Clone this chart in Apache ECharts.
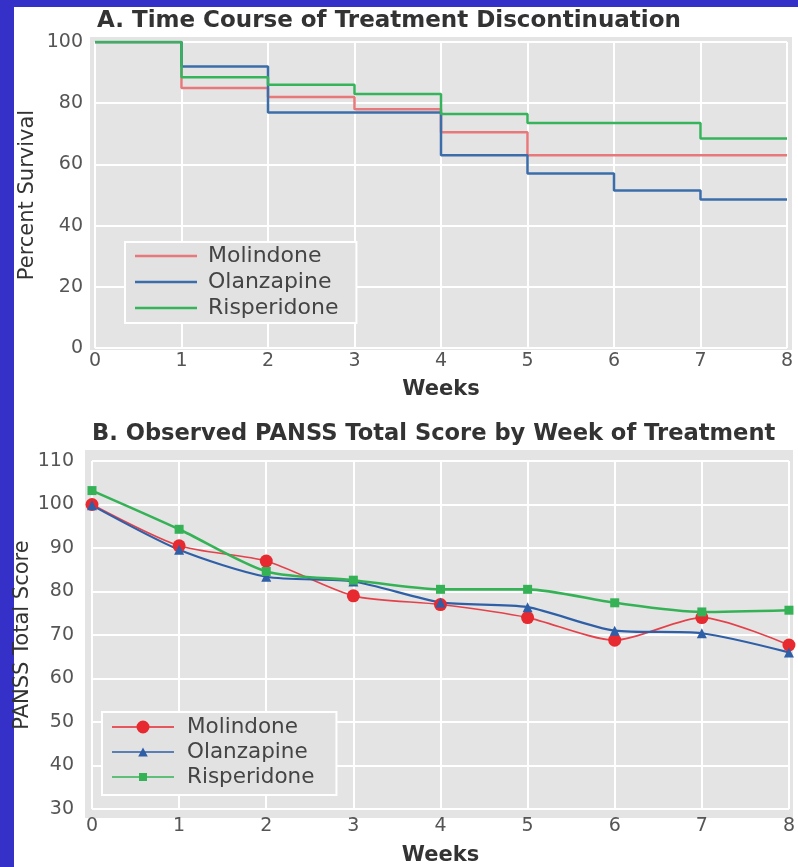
<!DOCTYPE html>
<html>
<head>
<meta charset="utf-8">
<script src="https://cdn.jsdelivr.net/npm/echarts@6/dist/echarts.min.js"></script>
<style>
html,body{margin:0;padding:0;background:#fff;}
#c{width:798px;height:867px;}
</style>
</head>
<body>
<div id="c"></div>
<script>
// ---- Data ----
const weeks = [0, 1, 2, 3, 4, 5, 6, 7, 8];
const weekTicks = ['0','1','2','3','4','5','6','7','8'];
// Panel A: Kaplan-Meier percent survival (value held from week i to i+1)
const molindoneSurvival   = [100, 85, 82, 78, 70.5, 63, 63, 63, 63];
const olanzapineSurvival  = [100, 92, 77, 77, 63, 57, 51.5, 48.5, 48.5];
const risperidoneSurvival = [100, 88.5, 86, 83, 76.5, 73.5, 73.5, 68.5, 68.5];
// Panel B: observed PANSS total score
const molindonePanss   = [100, 90.5, 87, 79, 77, 74, 68.8, 74, 67.7];
const olanzapinePanss  = [99.8, 89.6, 83.4, 82.3, 77.5, 76.4, 71, 70.4, 66];
const risperidonePanss = [103.2, 94.3, 84.6, 82.6, 80.5, 80.5, 77.4, 75.3, 75.7];
const drugNames = ['Molindone', 'Olanzapine', 'Risperidone'];

const pair = arr => weeks.map((w, i) => [w, arr[i]]);

const FONT = 'DejaVu Sans';
const GRAY = '#e4e4e4';
const RED = '#e8797b', BLUE = '#3b6daa', GREEN = '#36b45b';
const RED2 = '#e62a30', BLUE2 = '#2f5fa6', GREEN2 = '#35b256';

// legend icon shapes (line sample with or without marker)
const ICON_LINE = 'path://M0,0 L62,0 L62,2.6 L0,2.6 Z';
const LINE_PART = 'M0,6.2 L62,6.2 L62,7.8 L0,7.8 Z ';
const ICON_CIRCLE = 'path://' + LINE_PART + 'M37.5,7 A6.5,6.5 0 1 1 24.5,7 A6.5,6.5 0 1 1 37.5,7 Z';
const ICON_TRI = 'path://' + LINE_PART + 'M26.2,11.5 L31,2.5 L35.8,11.5 Z';
const ICON_SQ = 'path://' + LINE_PART + 'M27,3 L35,3 L35,11 L27,11 Z';

const chart = echarts.init(document.getElementById('c'));

const valueAxisCommon = {
  type: 'value',
  axisLine: {show: false},
  axisTick: {show: false},
  splitLine: {show: true, lineStyle: {color: '#ffffff', width: 2}},
  axisLabel: {color: '#555', fontFamily: FONT, fontSize: 19}
};
const bgAxis = idx => ({type: 'value', gridIndex: idx, show: false, min: 0, max: 1, splitLine: {show: false}});
const nameStyleBold = {fontFamily: FONT, fontSize: 21, fontWeight: 'bold', color: '#333'};
const nameStyle = {fontFamily: FONT, fontSize: 21, color: '#333'};
const legendCommon = {
  orient: 'vertical',
  itemWidth: 62, itemHeight: 22,
  backgroundColor: '#e2e2e2', borderColor: '#ffffff', borderWidth: 2, borderRadius: 0
};

const option = {
  backgroundColor: '#ffffff',
  animation: false,
  textStyle: {fontFamily: FONT},
  graphic: [
    {type: 'rect', shape: {x: 0, y: 0, width: 14, height: 867}, style: {fill: '#3430c8'}, z: -10},
    {type: 'rect', shape: {x: 0, y: 0, width: 798, height: 7}, style: {fill: '#3430c8'}, z: -10}
  ],
  title: [
    {text: 'A. Time Course of Treatment Discontinuation', left: 92, top: 5,
     textStyle: {fontFamily: FONT, fontSize: 23, fontWeight: 'bold', color: '#333'}},
    {text: 'B. Observed PANSS Total Score by Week of Treatment', left: 87, top: 418,
     textStyle: {fontFamily: FONT, fontSize: 22.6, fontWeight: 'bold', color: '#333'}}
  ],
  grid: [
    {left: 90, top: 37, width: 702, height: 313, show: true, backgroundColor: GRAY, borderWidth: 0},
    {left: 95, top: 42, width: 692, height: 306, show: false},
    {left: 85, top: 450, width: 708, height: 368, show: true, backgroundColor: GRAY, borderWidth: 0},
    {left: 92, top: 461, width: 698, height: 353, show: false}
  ],
  xAxis: [
    bgAxis(0),
    Object.assign({}, valueAxisCommon, {
      gridIndex: 1, min: 0, max: 8, interval: 1,
      axisLabel: Object.assign({}, valueAxisCommon.axisLabel, {margin: 4, formatter: v => weekTicks[v]}),
      name: 'Weeks', nameLocation: 'middle', nameGap: 31, nameTextStyle: nameStyleBold
    }),
    bgAxis(2),
    Object.assign({}, valueAxisCommon, {
      gridIndex: 3, min: 0, max: 8, interval: 1,
      axisLabel: Object.assign({}, valueAxisCommon.axisLabel, {margin: 8, formatter: v => weekTicks[v]}),
      name: 'Weeks', nameLocation: 'middle', nameGap: 36, nameTextStyle: nameStyleBold
    })
  ],
  yAxis: [
    bgAxis(0),
    Object.assign({}, valueAxisCommon, {
      gridIndex: 1, min: 0, max: 100, interval: 20,
      axisLabel: Object.assign({}, valueAxisCommon.axisLabel, {margin: 12}),
      name: 'Percent Survival', nameLocation: 'middle', nameGap: 57, nameMoveOverlap: false,
      nameTextStyle: nameStyle
    }),
    bgAxis(2),
    Object.assign({}, valueAxisCommon, {
      gridIndex: 3, min: 30, max: 110, interval: 10,
      axisLabel: Object.assign({}, valueAxisCommon.axisLabel, {margin: 18}),
      name: 'PANSS Total Score', nameLocation: 'middle', nameGap: 59, nameMoveOverlap: false,
      nameTextStyle: nameStyle
    })
  ],
  legend: [
    Object.assign({}, legendCommon, {
      left: 125, top: 242,
      data: drugNames.map(n => ({name: n, icon: ICON_LINE})),
      itemGap: 4,
      padding: [3, 18, 4, 10],
      textStyle: {fontFamily: FONT, fontSize: 22, lineHeight: 22, color: '#444', padding: [0, 0, 0, 6]}
    }),
    Object.assign({}, legendCommon, {
      left: 102, top: 712,
      data: [
        {name: drugNames[0] + ' (B)', icon: ICON_CIRCLE},
        {name: drugNames[1] + ' (B)', icon: ICON_TRI},
        {name: drugNames[2] + ' (B)', icon: ICON_SQ}
      ],
      formatter: n => n.replace(' (B)', ''),
      itemGap: 3,
      padding: [4, 22, 7, 10],
      textStyle: {fontFamily: FONT, fontSize: 21.5, lineHeight: 22, color: '#444', padding: [0, 0, 0, 8]}
    })
  ],
  series: [
    {name: 'Molindone', type: 'line', xAxisIndex: 1, yAxisIndex: 1, step: 'end',
     data: pair(molindoneSurvival), symbol: 'none', lineStyle: {color: RED, width: 2.5}, itemStyle: {color: RED}},
    {name: 'Olanzapine', type: 'line', xAxisIndex: 1, yAxisIndex: 1, step: 'end',
     data: pair(olanzapineSurvival), symbol: 'none', lineStyle: {color: BLUE, width: 2.5}, itemStyle: {color: BLUE}},
    {name: 'Risperidone', type: 'line', xAxisIndex: 1, yAxisIndex: 1, step: 'end',
     data: pair(risperidoneSurvival), symbol: 'none', lineStyle: {color: GREEN, width: 2.5}, itemStyle: {color: GREEN}},

    {name: 'Molindone (B)', type: 'line', xAxisIndex: 3, yAxisIndex: 3, smooth: 0.25,
     data: pair(molindonePanss), symbol: 'circle', symbolSize: 13,
     lineStyle: {color: '#e5414a', width: 1.6}, itemStyle: {color: RED2}},
    {name: 'Olanzapine (B)', type: 'line', xAxisIndex: 3, yAxisIndex: 3, smooth: 0.25,
     data: pair(olanzapinePanss), symbol: 'triangle', symbolSize: 10,
     lineStyle: {color: BLUE2, width: 2.2}, itemStyle: {color: BLUE2}},
    {name: 'Risperidone (B)', type: 'line', xAxisIndex: 3, yAxisIndex: 3, smooth: 0.25,
     data: pair(risperidonePanss), symbol: 'rect', symbolSize: 9,
     lineStyle: {color: GREEN2, width: 2.6}, itemStyle: {color: GREEN2}}
  ]
};
chart.setOption(option);
</script>
</body>
</html>
